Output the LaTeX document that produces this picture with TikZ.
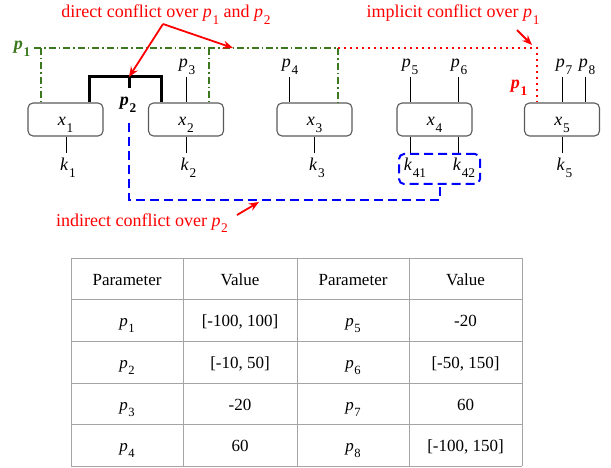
\documentclass[tikz,border=0pt]{standalone}
\usepackage{fontspec}
\setmainfont{Liberation Serif}
\usetikzlibrary{arrows.meta}
\definecolor{pgreen}{RGB}{60,120,30}
\definecolor{pred}{RGB}{255,0,0}
\definecolor{pblue}{RGB}{0,0,255}
\definecolor{tgray}{RGB}{165,165,165}
\newcommand\sbs[1]{\kern0.04em\raisebox{-0.36em}{\scalebox{0.74}{#1}}}
\newcommand\pv[1]{\textit{p}\sbs{#1}}
\newcommand\xv[1]{\textit{x}\sbs{#1}}
\newcommand\kv[1]{\textit{k}\sbs{#1}}
\begin{document}
\begin{tikzpicture}[x=1pt,y=-1pt,
  box/.style={draw=black!65, line width=1.1pt, rounded corners=5pt, minimum width=75pt, minimum height=33pt, inner sep=0pt},
  lab/.style={font=\fontsize{18}{20}\selectfont, inner sep=0pt, anchor=base},
  ann/.style={lab, text=pred},
  tab/.style={font=\fontsize{17}{19}\selectfont, inner sep=0pt, anchor=base},
  thinline/.style={line width=0.9pt},
  thickline/.style={line width=3pt},
  greenline/.style={pgreen, line width=2pt, dash pattern=on 7pt off 3pt on 1.5pt off 3pt},
  redline/.style={pred, line width=2pt, dash pattern=on 2pt off 4pt},
  blueline/.style={pblue, line width=2pt, dash pattern=on 9pt off 5pt},
  arr/.style={pred, line width=1.8pt, -{Stealth[length=10pt,width=8pt]}},
  tline/.style={tgray, line width=1pt}
]
\useasboundingbox (0,0) rectangle (611,468);

% boxes
\node[box] (x1) at (65.5,119.5) {};
\node[box] (x2) at (186,119.5) {};
\node[box] (x3) at (314.5,119.5) {};
\node[box] (x4) at (434.5,119.5) {};
\node[box] (x5) at (562,119.5) {};
\node[lab] (x1l) at (65.5,126) {\xv{1}};
\node[lab] (x2l) at (186,126) {\xv{2}};
\node[lab] (x3l) at (314.5,126) {\xv{3}};
\node[lab] (x4l) at (434.5,126) {\xv{4}};
\node[lab] (x5l) at (562,126) {\xv{5}};

% k labels
\node[lab] (k1) at (68,171) {\kv{1}};
\node[lab] (k2) at (188.5,171) {\kv{2}};
\node[lab] (k3) at (317,171) {\kv{3}};
\node[lab] (k41) at (415,171) {\kv{41}};
\node[lab] (k42) at (464,171) {\kv{42}};
\node[lab] (k5) at (564.5,171) {\kv{5}};
\coordinate (k1t) at (66,153);
\coordinate (k2t) at (186,153);
\coordinate (k3t) at (314.5,153);
\coordinate (k41t) at (410,153);
\coordinate (k42t) at (458,153);
\coordinate (k5t) at (562,153);
\draw[thinline] (k1t |- x1.south) -- (k1t);
\draw[thinline] (k2t |- x2.south) -- (k2t);
\draw[thinline] (k3t |- x3.south) -- (k3t);
\draw[thinline] (k41t |- x4.south) -- (k41t);
\draw[thinline] (k42t |- x4.south) -- (k42t);
\draw[thinline] (k5t |- x5.south) -- (k5t);

% top parameters
\node[lab] (p3) at (187,68) {\pv{3}};
\node[lab] (p4) at (290,68) {\pv{4}};
\node[lab] (p5) at (410,68) {\pv{5}};
\node[lab] (p6) at (459,68) {\pv{6}};
\node[lab] (p7) at (564,68) {\pv{7}};
\node[lab] (p8) at (587,68) {\pv{8}};
\coordinate (p3b) at (186,77);
\coordinate (p4b) at (289,77);
\coordinate (p5b) at (410,77);
\coordinate (p6b) at (458,77);
\coordinate (p7b) at (562,77);
\coordinate (p8b) at (585,77);
\draw[thinline] (p3b) -- (p3b |- x2.north);
\draw[thinline] (p4b) -- (p4b |- x3.north);
\draw[thinline] (p5b) -- (p5b |- x4.north);
\draw[thinline] (p6b) -- (p6b |- x4.north);
\draw[thinline] (p7b) -- (p7b |- x5.north);
\draw[thinline] (p8b) -- (p8b |- x5.north);

% p2 bracket
\coordinate (b1) at (89,77);
\coordinate (b2) at (161,77);
\coordinate (bt) at (129,77);
\coordinate (bm) at (129,88);
\draw[thickline] (b1 |- x1.north) -- (b1) -- (b2) -- (b2 |- x2.north);
\draw[thickline] (bt) -- (bm);
\node[lab, font=\fontsize{18}{20}\selectfont\bfseries] (p2) at (128,106) {\pv{2}};

% green p1
\node[lab, text=pgreen, font=\fontsize{18}{20}\selectfont\bfseries] (p1g) at (22,50) {\pv{1}};
\coordinate (g0) at (34,48);
\coordinate (g1) at (41,48);
\coordinate (g2) at (209,48);
\coordinate (g3) at (338,48);
\coordinate (gm) at (233,48);
\draw[greenline] (g0) -- (g3) -- (g3 |- x3.north);
\draw[greenline] (g1) -- (g1 |- x1.north);
\draw[greenline] (g2) -- (g2 |- x2.north);

% red implicit p1
\coordinate (r1) at (537,48);
\draw[redline] (g3) -- (r1) -- (r1 |- x5.north);
\node[lab, text=pred, font=\fontsize{18}{20}\selectfont\bfseries] (p1r) at (519,89) {\pv{1}};

% blue indirect
\node[draw=pblue, line width=2pt, dash pattern=on 9pt off 5pt, rounded corners=5pt, minimum width=81pt, minimum height=30pt, inner sep=0pt] (kb) at (439.5,169) {};
\coordinate (bl0) at (129,123);
\coordinate (bl1) at (129,200);
\coordinate (bl2) at (440,200);
\draw[blueline] (bl0) -- (bl1) -- (bl2) -- (bl2 |- kb.south);

% annotations
\node[ann] (dtext) at (166,18) {direct conflict over \pv{1} and \pv{2}};
\coordinate (ds) at (163,24);
\draw[arr] (ds) -- (bt);
\draw[arr] (ds) -- (gm);
\node[ann] (itext) at (453,18) {implicit conflict over \pv{1}};
\coordinate (is) at (517,30);
\coordinate (ie) at (532,45);
\draw[arr] (is) -- (ie);
\node[ann] (ntext) at (142,226) {indirect conflict over \pv{2}};
\coordinate (ns) at (237,215);
\coordinate (ne) at (259,202);
\draw[arr] (ns) -- (ne);

% table grid
\foreach \yy in {258,299,341,383,424,466} \draw[tline] (71,\yy) -- (522,\yy);
\foreach \xx in {71,183,297,409,522} \draw[tline] (\xx,258) -- (\xx,466);

% table text
\node[tab] (h1) at (127,285) {Parameter};
\node[tab] (h2) at (240,285) {Value};
\node[tab] (h3) at (353,285) {Parameter};
\node[tab] (h4) at (465.5,285) {Value};
\node[tab] (a1) at (127,326.5) {\pv{1}};
\node[tab] (b1v) at (240,326.5) {[-100, 100]};
\node[tab] (c1) at (353,326.5) {\pv{5}};
\node[tab] (d1) at (465.5,326.5) {-20};
\node[tab] (a2) at (127,368.5) {\pv{2}};
\node[tab] (b2v) at (240,368.5) {[-10, 50]};
\node[tab] (c2) at (353,368.5) {\pv{6}};
\node[tab] (d2) at (465.5,368.5) {[-50, 150]};
\node[tab] (a3) at (127,410) {\pv{3}};
\node[tab] (b3v) at (240,410) {-20};
\node[tab] (c3) at (353,410) {\pv{7}};
\node[tab] (d3) at (465.5,410) {60};
\node[tab] (a4) at (127,451.5) {\pv{4}};
\node[tab] (b4v) at (240,451.5) {60};
\node[tab] (c4) at (353,451.5) {\pv{8}};
\node[tab] (d4) at (465.5,451.5) {[-100, 150]};
\end{tikzpicture}
\end{document}
